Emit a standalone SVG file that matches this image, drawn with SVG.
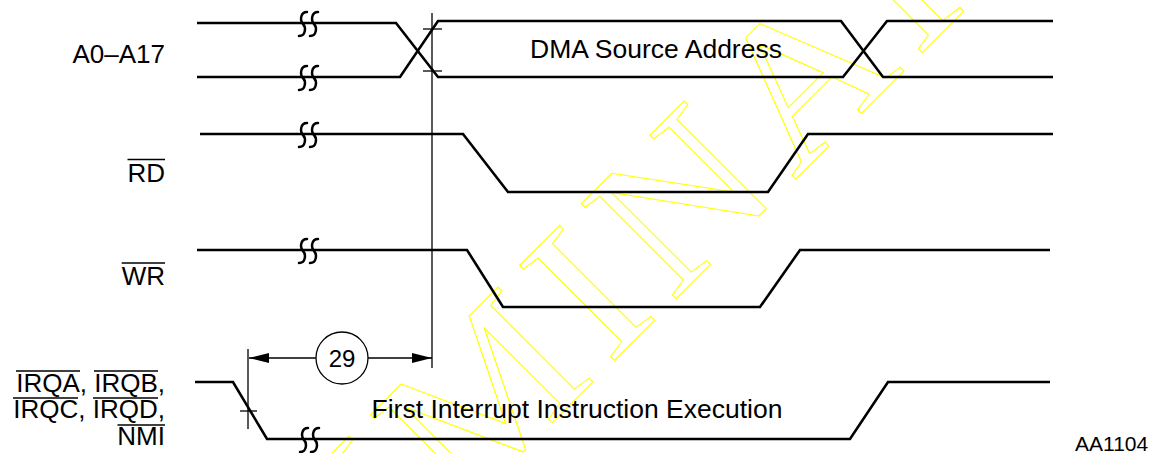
<svg xmlns="http://www.w3.org/2000/svg" xmlns:xlink="http://www.w3.org/1999/xlink" width="1157" height="453" viewBox="0 0 1157 453">
<style>
.sig{fill:none;stroke:#000;stroke-width:2.6;stroke-linejoin:miter}
.thin{fill:none;stroke:#000;stroke-width:1.3}
.brk{fill:none;stroke:#000;stroke-width:2.5;stroke-linecap:round}
.lbl{font-family:"Liberation Sans",Arial,sans-serif;font-size:26px;fill:#000}
.big{font-size:26.5px}
.wm{font-family:"Liberation Serif","Times New Roman",serif;font-size:205px;letter-spacing:15.6px;fill:none;stroke:#ffff00;stroke-width:1}
</style>
<defs>
<marker id="arr" viewBox="0 0 20 10" refX="20" refY="5" markerWidth="20" markerHeight="10" markerUnits="userSpaceOnUse" orient="auto-start-reverse">
<path d="M0,0 L20,5 L0,10 Z" fill="#000"/>
</marker>
<g id="brk">
<path class="brk" d="M4,-12 C-3,-12 -3,-3 0,0 C3,3 3,12 -4,12"/>
<path class="brk" d="M15,-12 C8,-12 8,-3 11,0 C14,3 14,12 7,12"/>
</g>
</defs>
<rect width="1157" height="453" fill="#fff"/>
<g id="watermark">
<text class="wm" transform="translate(-23.6,998.4) rotate(-45) scale(1.0585,1)">PRELIMINARY</text>
</g>
<g id="connectors">
<line class="thin" x1="432" y1="13" x2="432" y2="368"/>
<line class="thin" x1="423" y1="29" x2="442" y2="29"/>
<line class="thin" x1="423" y1="71" x2="442" y2="71"/>
<line class="thin" x1="248" y1="349" x2="248" y2="429"/>
<line class="thin" x1="240" y1="411" x2="257" y2="411"/>
<line class="thin" x1="249" y1="358" x2="432" y2="358" marker-start="url(#arr)" marker-end="url(#arr)"/>
</g>
<g id="A0-A17">
<path class="sig" d="M197,23 H396 L438,77 H843 L887,21 H1053"/>
<path class="sig" d="M197,77 H400 L438,21 H841 L883,77 H1053"/>
<use xlink:href="#brk" href="#brk" x="303" y="24"/>
<use xlink:href="#brk" href="#brk" x="303" y="78"/>
<text class="lbl" x="165" y="63" text-anchor="end">A0–A17</text>
<text class="lbl big" x="656" y="58" text-anchor="middle">DMA Source Address</text>
</g>
<g id="RD">
<path class="sig" d="M200,134 H463 L508,192 H768 L808,134 H1053"/>
<use xlink:href="#brk" href="#brk" x="303" y="135"/>
<text class="lbl" x="165" y="182" text-anchor="end">RD</text>
<line class="thin" x1="127.5" y1="159.5" x2="165" y2="159.5"/>
</g>
<g id="WR">
<path class="sig" d="M197,250 H467 L503,307 H760 L800,250 H1050"/>
<use xlink:href="#brk" href="#brk" x="303" y="251"/>
<text class="lbl" x="165" y="285" text-anchor="end">WR</text>
<line class="thin" x1="121.7" y1="263" x2="165" y2="263"/>
</g>
<g id="IRQ">
<path class="sig" d="M195,382 H233 L267,439 H850 L888,382 H1050"/>
<use xlink:href="#brk" href="#brk" x="304" y="440"/>
<text class="lbl" x="165" y="392" text-anchor="end">IRQA, IRQB,</text>
<text class="lbl" x="165" y="418" text-anchor="end">IRQC, IRQD,</text>
<text class="lbl" x="165" y="445" text-anchor="end">NMI</text>
<line class="thin" x1="16" y1="371" x2="80" y2="371"/>
<line class="thin" x1="94" y1="371" x2="158" y2="371"/>
<line class="thin" x1="13" y1="398" x2="78" y2="398"/>
<line class="thin" x1="93" y1="398" x2="158" y2="398"/>
<line class="thin" x1="117.5" y1="425" x2="165" y2="425"/>
<text class="lbl big" x="577" y="418" text-anchor="middle">First Interrupt Instruction Execution</text>
</g>
<g id="dim29">
<circle cx="342" cy="358" r="26" fill="#fff" stroke="#000" stroke-width="1.3"/>
<text x="342" y="366.5" text-anchor="middle" style="font-family:'Liberation Sans',Arial,sans-serif;font-size:24px">29</text>
</g>
<text x="1075" y="451" style="font-family:'Liberation Sans',Arial,sans-serif;font-size:21px">AA1104</text>
</svg>
